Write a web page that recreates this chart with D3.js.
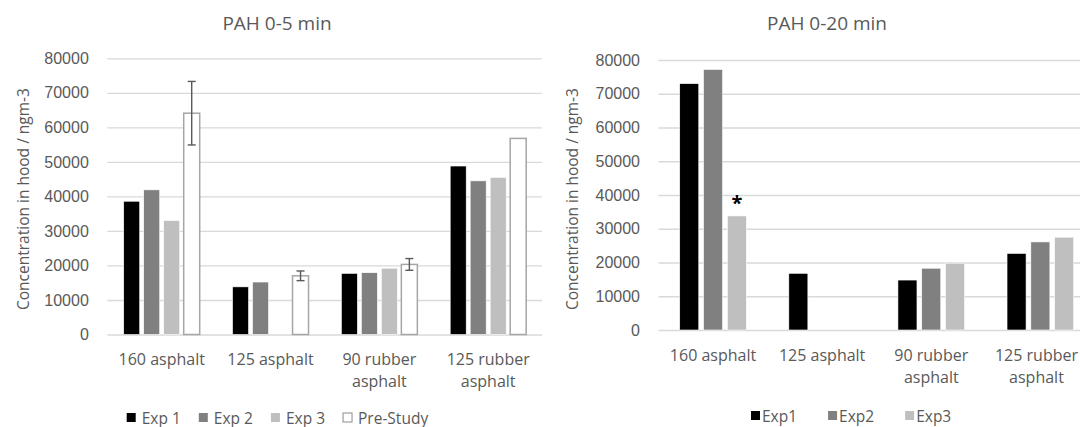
<!DOCTYPE html>
<html>
<head>
<meta charset="utf-8">
<script src="https://cdn.jsdelivr.net/npm/d3@7"></script>
<style>
  html, body { margin: 0; padding: 0; background: #fff; }
  svg { display: block; font-family: "Open Sans", "Noto Sans", sans-serif; }
</style>
</head>
<body>
<svg id="chart" width="1080" height="427"></svg>
<script>
// ---------- data ----------
const categories = ["160 asphalt", "125 asphalt", "90 rubber asphalt", "125 rubber asphalt"];
const categoryLines = [["160 asphalt"], ["125 asphalt"], ["90 rubber", "asphalt"], ["125 rubber", "asphalt"]];
const yTicks = [0, 10000, 20000, 30000, 40000, 50000, 60000, 70000, 80000];

// Chart 1: PAH 0-5 min
const left_series = ["Exp 1", "Exp 2", "Exp 3", "Pre-Study"];
const left_exp1 = [38600, 13800, 17700, 48800];
const left_exp2 = [41900, 15200, 17900, 44500];
const left_exp3 = [33000, null, 19200, 45500];
const left_pre = [64100, 17000, 20300, 56800];
const left_preErr = [9200, 1400, 1700, null];

// Chart 2: PAH 0-20 min
const right_series = ["Exp1", "Exp2", "Exp3"];
const right_exp1 = [73000, 16800, 14800, 22700];
const right_exp2 = [77200, null, 18300, 26100];
const right_exp3 = [33800, null, 19800, 27500];
const right_marks = ["*", null, null, null]; // annotation above Exp3

// ---------- drawing ----------
const svg = d3.select("#chart");
const W = 1080;
const textColor = "#595959";
const gridColor = "#d9d9d9";
const fills = ["#000000", "#808080", "#bfbfbf", "#ffffff"];

function drawChart(cfg) {
  const g = svg.append("g");
  const y = d3.scaleLinear().domain([0, 80000]).range([cfg.y0, cfg.y1]);
  const x0 = d3.scaleBand().domain(categories).range([cfg.xl, cfg.xr])
    .paddingInner(cfg.groupPad).paddingOuter(cfg.groupPad / 2);
  const x1 = d3.scaleBand().domain(cfg.series).range([0, x0.bandwidth()])
    .paddingInner(cfg.barPad).paddingOuter(cfg.barPad / 2);

  // gridlines + tick labels
  const yAxis = d3.axisLeft(y).tickValues(yTicks).tickSize(-(cfg.gridR - cfg.xl)).tickFormat(d3.format("d")).tickPadding(cfg.tickPad);
  const ax = g.append("g").attr("transform", `translate(${cfg.xl},0)`).call(yAxis);
  ax.select(".domain").remove();
  ax.selectAll(".tick line").attr("stroke", gridColor).attr("stroke-width", 1.3);
  ax.selectAll(".tick text").attr("fill", textColor).attr("font-size", "16px").attr("font-family", null);

  // bars
  cfg.series.forEach((s, si) => {
    const vals = cfg.values[si];
    g.append("g").selectAll("rect").data(categories.map((c, i) => ({c, v: vals[i]})).filter(d => d.v != null))
      .join("rect")
      .attr("x", d => x0(d.c) + x1(s))
      .attr("y", d => y(d.v))
      .attr("width", x1.bandwidth())
      .attr("height", d => y(0) - y(d.v))
      .attr("fill", fills[si])
      .attr("stroke", si === 3 ? "#a6a6a6" : "#ffffff")
      .attr("stroke-width", si === 3 ? 1.5 : 0.6);
  });

  // error bars
  if (cfg.err) {
    const si = cfg.errSeries;
    const vals = cfg.values[si];
    const eb = g.append("g").attr("stroke", textColor).attr("stroke-width", 1.4);
    categories.forEach((c, i) => {
      const e = cfg.err[i];
      if (e == null) return;
      const cx = x0(c) + x1(cfg.series[si]) + x1.bandwidth() / 2;
      const yt = y(vals[i] + e), yb = y(vals[i] - e);
      eb.append("line").attr("x1", cx).attr("x2", cx).attr("y1", yt).attr("y2", yb);
      eb.append("line").attr("x1", cx - 4).attr("x2", cx + 4).attr("y1", yt).attr("y2", yt);
      eb.append("line").attr("x1", cx - 4).attr("x2", cx + 4).attr("y1", yb).attr("y2", yb);
    });
  }

  // annotations
  if (cfg.marks) {
    const si = cfg.markSeries;
    categories.forEach((c, i) => {
      if (!cfg.marks[i]) return;
      g.append("text")
        .attr("x", x0(c) + x1(cfg.series[si]) + x1.bandwidth() / 2)
        .attr("y", y(cfg.values[si][i]) - 6)
        .attr("text-anchor", "middle")
        .attr("font-size", "20px").attr("font-weight", "bold").attr("fill", "#000")
        .text(cfg.marks[i]);
    });
  }

  // category labels (kept inside the canvas)
  categories.forEach((c, i) => {
    const cx = x0(c) + x0.bandwidth() / 2;
    const t = g.append("text")
      .attr("y", cfg.catY)
      .attr("text-anchor", "middle").attr("fill", textColor).attr("font-size", "16px");
    const spans = categoryLines[i].map((line, li) =>
      t.append("tspan").attr("x", cx).attr("dy", li === 0 ? 0 : 22).text(line));
    const maxW = d3.max(spans, s => s.node().getComputedTextLength());
    const fx = Math.min(cx, W - 2 - maxW / 2);
    spans.forEach(s => s.attr("x", fx));
  });

  // title
  g.append("text").attr("x", cfg.titleX).attr("y", cfg.titleY)
    .attr("text-anchor", "middle").attr("fill", textColor).attr("font-size", "19px")
    .text(cfg.title);

  // y-axis title
  g.append("text")
    .attr("transform", `translate(${cfg.yTitleX},${cfg.yTitleY}) rotate(-90)`)
    .attr("text-anchor", "middle").attr("fill", textColor).attr("font-size", "15.5px")
    .text("Concentration in hood / ngm-3");

  // legend
  const lg = g.append("g");
  let lx = cfg.legX;
  cfg.series.forEach((s, si) => {
    lg.append("rect").attr("x", lx).attr("y", cfg.legY - 4.5).attr("width", 9).attr("height", 9)
      .attr("fill", fills[si])
      .attr("stroke", si === 3 ? "#8c8c8c" : "none").attr("stroke-width", 1);
    const t = lg.append("text").attr("x", lx + 9 + cfg.legGap).attr("y", cfg.legY)
      .attr("dominant-baseline", "central").attr("fill", textColor).attr("font-size", "15.5px").text(s);
    lx = lx + 9 + cfg.legGap + t.node().getComputedTextLength() + cfg.legSpace;
  });
}

drawChart({
  title: "PAH 0-5 min", titleX: 277, titleY: 30,
  series: left_series, values: [left_exp1, left_exp2, left_exp3, left_pre],
  err: left_preErr, errSeries: 3,
  y0: 334.5, y1: 58.3, xl: 107.3, xr: 542.6, gridR: 542,
  groupPad: 0.265, barPad: 0.2, tickPad: 18.5,
  catY: 365,
  yTitleX: 28.5, yTitleY: 199,
  legX: 126.7, legY: 417.5, legGap: 6, legSpace: 18
});

drawChart({
  title: "PAH 0-20 min", titleX: 827, titleY: 30,
  series: right_series, values: [right_exp1, right_exp2, right_exp3],
  marks: right_marks, markSeries: 2,
  y0: 330, y1: 60, xl: 658.5, xr: 1094.9, gridR: 1080,
  groupPad: 0.3455, barPad: 0.2, tickPad: 18.5,
  catY: 360.5,
  yTitleX: 578, yTitleY: 199,
  legX: 751, legY: 415.5, legGap: 2, legSpace: 31
});
</script>
</body>
</html>
